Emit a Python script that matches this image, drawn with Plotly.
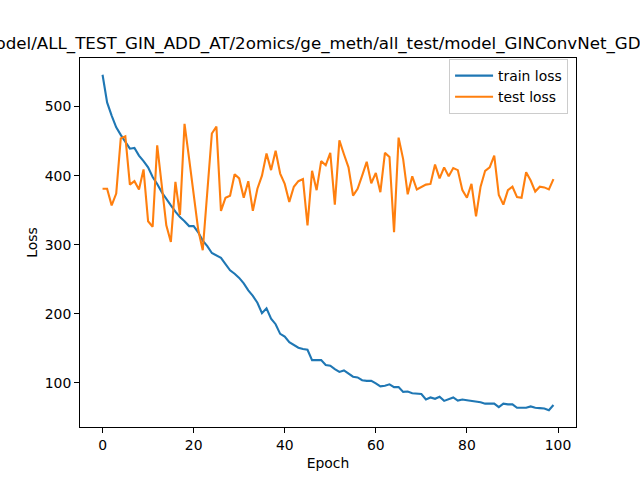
import plotly.graph_objects as go

# values
epochs = list(range(100))
train_loss = [
    546, 506, 487, 470, 459, 448, 439, 440, 429, 421,
    412, 398, 388, 376, 366, 357, 348, 340, 334, 327,
    327, 318, 306, 298, 288, 285, 281, 272, 263, 258,
    252, 244, 234, 226, 216, 201, 208, 193, 185, 171,
    167, 159, 155, 151, 149, 148, 133, 133, 133, 126,
    125, 120, 116, 118, 113, 109, 108, 104, 103, 103,
    99.5, 95, 96, 98, 94, 94, 87, 87.5, 85, 85,
    84, 76, 79, 77, 80, 74, 76, 79, 74.5, 76,
    75, 74, 73.5, 72, 70, 70, 70, 65, 70, 69,
    69, 64, 63.5, 64, 66, 64, 63.5, 63, 60.5, 68,
]
test_loss = [
    381, 381, 357, 374, 454, 457, 387, 392, 380, 409,
    334, 326, 444, 383, 328, 304, 391, 343, 475, 425,
    375, 322, 292, 372, 461, 471, 349, 368, 371, 402,
    396, 368, 392, 349, 381, 400, 432, 408, 436, 403,
    388, 362, 384, 392, 395, 328, 407, 379, 421, 415,
    433, 358, 451, 431, 412, 371, 381, 400, 420, 389,
    404, 376, 433, 427, 318, 455, 424, 373, 399, 380,
    384, 387, 388, 416, 396, 412, 399, 411, 408, 379,
    368, 388, 341, 384, 407, 412, 429, 372, 358, 379,
    384, 369, 368, 405, 393, 377, 384, 383, 380, 395,
]
title = "model/ALL_TEST_GIN_ADD_AT/2omics/ge_meth/all_test/model_GINConvNet_GDSC"

fig = go.Figure()
fig.add_trace(go.Scatter(x=epochs, y=train_loss, mode="lines", name="train loss",
                         line=dict(color="#1f77b4", width=2.1)))
fig.add_trace(go.Scatter(x=epochs, y=test_loss, mode="lines", name="test loss",
                         line=dict(color="#ff7f0e", width=2.1)))

lo = min(min(train_loss), min(test_loss))
hi = max(max(train_loss), max(test_loss))
pad = (hi - lo) * 0.05

axis_style = dict(showgrid=False, zeroline=False, showline=True, linecolor="black",
                  linewidth=1, mirror=True, ticks="outside", ticklen=5,
                  tickcolor="black", tickfont=dict(size=13.9, color="black"),
                  automargin=False)

fig.update_xaxes(range=[-4.95, 103.95], tickvals=[0, 20, 40, 60, 80, 100],
                 title=dict(text="Epoch", font=dict(size=13.9, color="black"), standoff=6),
                 **axis_style)
fig.update_yaxes(range=[lo - pad, hi + pad], tickvals=[100, 200, 300, 400, 500],
                 title=dict(text="Loss", font=dict(size=13.9, color="black"), standoff=3),
                 **axis_style)

fig.update_layout(
    width=640, height=480,
    margin=dict(l=80, r=64, t=58, b=53),
    paper_bgcolor="white", plot_bgcolor="white",
    font=dict(family="DejaVu Sans", color="black"),
    title=dict(text=title, x=0.486, xref="paper", xanchor="center",
               y=(480 - 49) / 480, yref="container", yanchor="bottom",
               font=dict(size=16.7, color="black")),
    legend=dict(x=0.984, y=0.997, xanchor="right", yanchor="top",
                bordercolor="#cccccc", borderwidth=1, bgcolor="rgba(255,255,255,0.8)",
                font=dict(size=13.9, color="black"), tracegroupgap=0,
                itemwidth=38),
    showlegend=True,
)

# the page has a default 8px body margin; drop it so the figure sits at 0,0
fig.write_html("out.html", config={"displayModeBar": False},
               post_script="document.body.style.margin='0';")
